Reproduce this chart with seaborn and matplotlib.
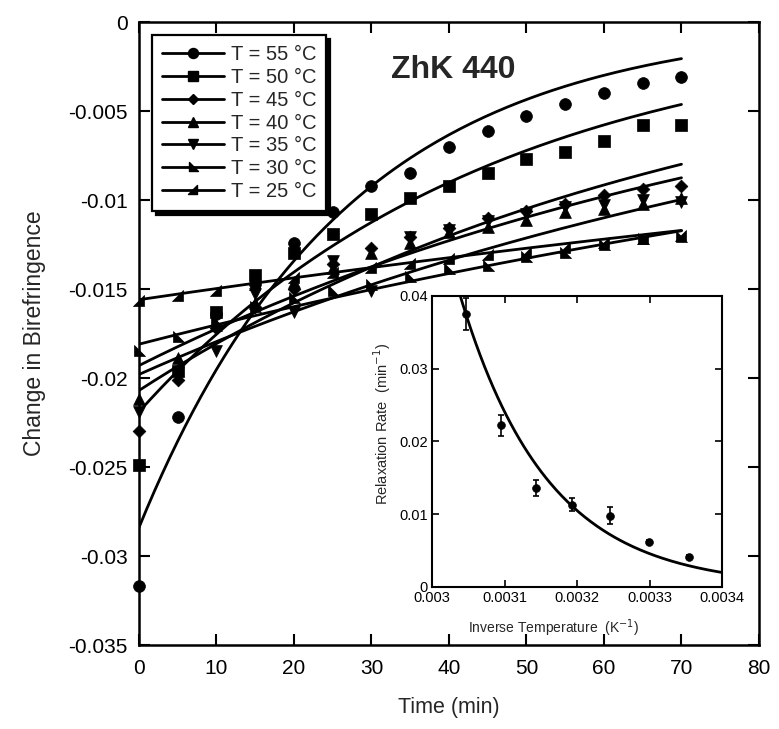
import numpy as np
import pandas as pd
import matplotlib
matplotlib.use("Agg")
import matplotlib.pyplot as plt
from matplotlib.path import Path
from matplotlib.lines import Line2D
import seaborn as sns

# ---------------- data ----------------
time_min = [0, 5, 10, 15, 20, 25, 30, 35, 40, 45, 50, 55, 60, 65, 70]
labels = ["T = 55 °C", "T = 50 °C", "T = 45 °C", "T = 40 °C",
          "T = 35 °C", "T = 30 °C", "T = 25 °C"]
b55 = [-0.0317, -0.0222, -0.0164, -0.0147, -0.0124, -0.0107, -0.0092, -0.0085,
       -0.0070, -0.0061, -0.0053, -0.0046, -0.0040, -0.0034, -0.0031]
b50 = [-0.0249, -0.0196, -0.0163, -0.0142, -0.0130, -0.0119, -0.0108, -0.0099,
       -0.0092, -0.0085, -0.0077, -0.0073, -0.0067, -0.0058, -0.0058]
b45 = [-0.0230, -0.0201, -0.0172, -0.0160, -0.0150, -0.0136, -0.0127, -0.0121,
       -0.0116, -0.0110, -0.0106, -0.0102, -0.0097, -0.0094, -0.0092]
b40 = [-0.0212, -0.0189, -0.0170, -0.0158, -0.0146, -0.0138, -0.0130, -0.0124,
       -0.0118, -0.0115, -0.0111, -0.0107, -0.0105, -0.0102, -0.0099]
b35 = [-0.0219, -0.0197, -0.0185, -0.0153, -0.0163, -0.0134, -0.0151, -0.0121,
       -0.0117, -0.0112, -0.0108, -0.0104, -0.0103, -0.0100, -0.0101]
b30 = [-0.0185, -0.0177, -0.0168, -0.0160, -0.0155, -0.0151, -0.0148, -0.0143,
       -0.0139, -0.0137, -0.0132, -0.0130, -0.0125, -0.0122, -0.0121]
b25 = [-0.0157, -0.0154, -0.0151, -0.0148, -0.0144, -0.0141, -0.0138, -0.0136,
       -0.0133, -0.0131, -0.0130, -0.0127, -0.0124, -0.0122, -0.0120]
series = [b55, b50, b45, b40, b35, b30, b25]

# exponential fit amplitudes (birefringence at t = 0 of the fit curves)
fit_amp = [0.0284, 0.0219, 0.0207, 0.0193, 0.0198, 0.0181, 0.0156]

# inset: relaxation rates vs inverse temperature
inv_temp = [0.003047, 0.003095, 0.003143, 0.003193, 0.003245, 0.003299, 0.003354]
rate = [0.0375, 0.0222, 0.0136, 0.0113, 0.0098, 0.0062, 0.0041]
rate_err = [0.0022, 0.0015, 0.0011, 0.0009, 0.0012, 0.0003, 0.0003]
arr_rate0 = 0.0241      # rate of the Arrhenius fit at 1/T = 0.0031
arr_slope = 8300.0      # Ea / R  (K)

# ---------------- style ----------------
sns.set_style("ticks")
plt.rcParams["font.family"] = ["Liberation Sans", "DejaVu Sans"]
plt.rcParams["axes.unicode_minus"] = False

tri_30 = Path([(-0.5, 0.6), (-0.5, -0.5), (0.6, -0.5), (-0.5, 0.6)],
              [Path.MOVETO, Path.LINETO, Path.LINETO, Path.CLOSEPOLY])
tri_25 = Path([(0.5, 0.6), (0.5, -0.5), (-0.6, -0.5), (0.5, 0.6)],
              [Path.MOVETO, Path.LINETO, Path.LINETO, Path.CLOSEPOLY])
markers = ["o", "s", "D", "^", "v", tri_30, tri_25]
msizes = [8.5, 8.5, 6.5, 8.5, 8.5, 8.5, 8.5]

fig = plt.figure(figsize=(7.79, 7.29), dpi=100)
ax = fig.add_axes([0.1784, 0.1152, 0.7959, 0.8546])

t_fit = np.linspace(0, 70, 141)
for amp, k in zip(fit_amp, rate):
    sns.lineplot(x=t_fit, y=-amp * np.exp(-k * t_fit), ax=ax, color="black",
                 lw=2.0, estimator=None, sort=False, legend=False)

for vals, m, ms in zip(series, markers, msizes):
    df = pd.DataFrame({"t": time_min, "b": vals})
    sns.scatterplot(data=df, x="t", y="b", ax=ax, marker=m, s=ms ** 2,
                    color="black", edgecolor="black", linewidth=0.5,
                    legend=False, zorder=3, clip_on=False)

ax.set_xlim(0, 80)
ax.set_ylim(-0.035, 0)
ax.set_xticks(np.arange(0, 81, 10))
yt = [0, -0.005, -0.01, -0.015, -0.02, -0.025, -0.03, -0.035]
ax.set_yticks(yt)
ax.set_yticklabels(["0", "-0.005", "-0.01", "-0.015", "-0.02", "-0.025", "-0.03", "-0.035"])
ax.tick_params(direction="in", length=8, width=1.5, top=True, right=True,
               labelsize=15, colors="black", pad=8)
ax.tick_params(axis="x", pad=10)
for s in ax.spines.values():
    s.set_linewidth(1.8)
    s.set_color("black")
ax.set_xlabel("Time (min)", fontsize=15.5, labelpad=14)
ax.set_ylabel("Change in Birefringence", fontsize=16.5, labelpad=16)

ax.text(40.5, -0.0027, "ZhK 440", fontsize=23, fontweight="bold",
        ha="center", va="center")

handles = [Line2D([], [], color="black", lw=2, marker=m, markersize=ms * 0.85,
                  markeredgecolor="black")
           for m, ms in zip(markers, msizes)]
leg = ax.legend(handles, labels, loc="upper left",
                bbox_to_anchor=(0.021, 0.979), borderaxespad=0,
                fontsize=14.5, frameon=True, fancybox=False,
                shadow={"ox": 3, "oy": -3, "color": "black", "alpha": 1},
                handlelength=3.1, handletextpad=0.3, labelspacing=0.19,
                borderpad=0.5)
leg.get_frame().set_edgecolor("black")
leg.get_frame().set_linewidth(1.6)
leg.get_frame().set_alpha(1)

# ---------------- inset ----------------
axi = fig.add_axes([0.5546, 0.1948, 0.3723, 0.3992])
x_fit = np.linspace(0.00300, 0.00340, 200)
sns.lineplot(x=x_fit, y=arr_rate0 * np.exp(-arr_slope * (x_fit - 0.0031)),
             ax=axi, color="black", lw=2.0, estimator=None, sort=False, legend=False)
axi.errorbar(inv_temp, rate, yerr=rate_err, fmt="none", ecolor="black",
             elinewidth=1.2, capsize=2.5, capthick=1.2)
sns.scatterplot(x=inv_temp, y=rate, ax=axi, color="black", s=32,
                edgecolor="black", legend=False, zorder=3)
axi.set_xlim(0.003, 0.0034)
axi.set_ylim(0, 0.04)
axi.set_xticks([0.003, 0.0031, 0.0032, 0.0033, 0.0034])
axi.set_xticklabels(["0.003", "0.0031", "0.0032", "0.0033", "0.0034"])
axi.set_yticks([0, 0.01, 0.02, 0.03, 0.04])
axi.set_yticklabels(["0", "0.01", "0.02", "0.03", "0.04"])
axi.tick_params(direction="in", length=5, width=1.2, top=True, right=True,
                labelsize=10.5, colors="black", pad=3)
for s in axi.spines.values():
    s.set_linewidth(1.5)
    s.set_color("black")
axi.set_xlabel("Inverse Temperature  (K$^{-1}$)", fontsize=10, labelpad=6)
axi.xaxis.set_label_coords(0.42, -0.105)
axi.set_ylabel("Relaxation Rate  (min$^{-1}$)", fontsize=10.5, labelpad=6)
axi.yaxis.set_label_coords(-0.135, 0.56)

fig.savefig("out.png", dpi=100)
